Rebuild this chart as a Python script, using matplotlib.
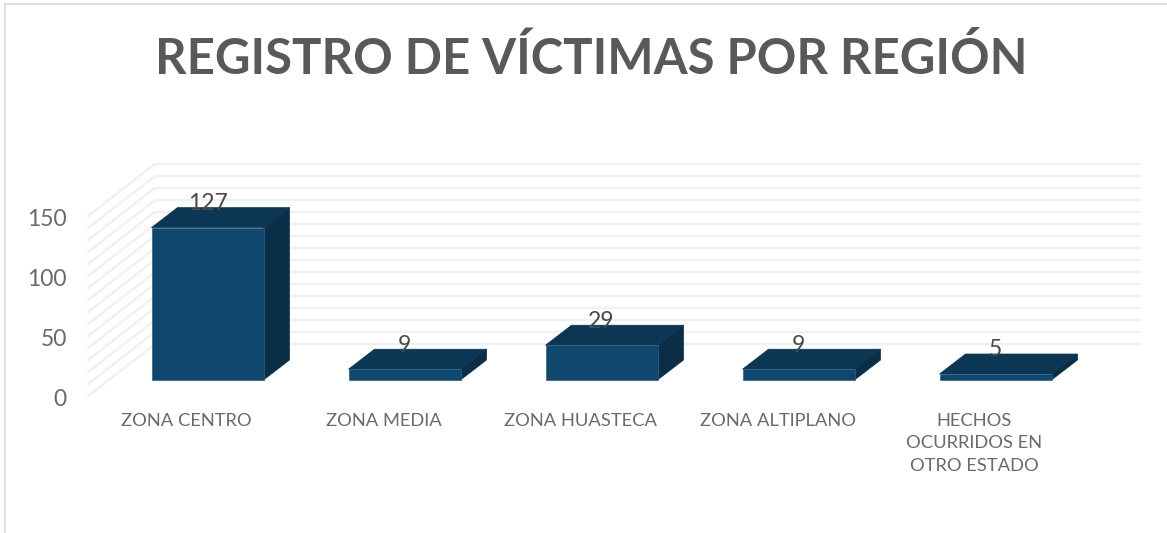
import matplotlib
matplotlib.use('Agg')
import matplotlib.pyplot as plt
from matplotlib.patches import Polygon

plt.rcParams['font.family'] = ['Lato', 'DejaVu Sans']

# data
categorias = ['ZONA CENTRO', 'ZONA MEDIA', 'ZONA HUASTECA', 'ZONA ALTIPLANO',
              'HECHOS\nOCURRIDOS EN\nOTRO ESTADO']
victimas = [127, 9, 29, 9, 5]
ticks_y = [0, 50, 100, 150]
titulo = 'REGISTRO DE VÍCTIMAS POR REGIÓN'

W, H = 1167, 533
PX_Y = 1.2      # pixels per victim
PX_X = 197.0    # pixels per category
ZERO_Y = 396    # pixel row of value 0 on the front of the wall
CERO_X = 207.5  # pixel column of first bar centre

fig = plt.figure(figsize=(W / 100, H / 100), dpi=100, facecolor='white')
ax = fig.add_axes([0, 0, 1, 1])
ax.set_xlim(-CERO_X / PX_X, (W - CERO_X) / PX_X)
ax.set_ylim(-(H - ZERO_Y) / PX_Y, ZERO_Y / PX_Y)
ax.axis('off')

dx = 1 / PX_X       # one pixel in x
dy = 1 / PX_Y       # one pixel in y

# outer frame
ax.plot([5 * dx + ax.get_xlim()[0]] * 2, [ax.get_ylim()[0], ax.get_ylim()[1] - 4 * dy],
        color='#d9d9d9', lw=1.1)
ax.plot([5 * dx + ax.get_xlim()[0], ax.get_xlim()[1]], [ax.get_ylim()[1] - 4 * dy] * 2,
        color='#d9d9d9', lw=1.1)

# gridlines on side wall and back wall
x_front = (88 - CERO_X) * dx
x_back = (155 - CERO_X) * dx
x_end = (1140 - CERO_X) * dx
rise = 52 * dy
for v in range(0, 151, 10):
    ax.plot([x_front, x_back, x_end], [v, v + rise, v + rise],
            color='#f0f0f0', lw=1.6, solid_joinstyle='miter', zorder=1)

# 3D bars
base = 16 * dy
ancho = 112 * dx
prof_x = 26 * dx
prof_y = 20 * dy
for i, val in enumerate(victimas):
    x0 = i - ancho / 2
    x1 = i + ancho / 2
    y0 = base
    y1 = base + val
    ax.add_patch(Polygon([(x1, y0), (x1 + prof_x, y0 + prof_y), (x1 + prof_x, y1 + prof_y), (x1, y1)],
                         facecolor='#0a2e45', edgecolor='#0a2e45', lw=0.5, zorder=3))
    ax.add_patch(Polygon([(x0, y1), (x1, y1), (x1 + prof_x, y1 + prof_y), (x0 + prof_x, y1 + prof_y)],
                         facecolor='#0b3755', edgecolor='#0b3755', lw=0.5, zorder=3))
    ax.add_patch(Polygon([(x0, y0), (x1, y0), (x1, y1), (x0, y1)],
                         facecolor='#10476f', edgecolor='#2f6288', lw=0.5, zorder=4))
    ax.text(i, y1 + 24 * dy, str(val), ha='center', va='center',
            fontsize=16.5, color='#4a4a4a', zorder=5)
    ax.text(i - 21 * dx, -16.5 * dy, categorias[i], ha='center', va='top',
            fontsize=13.2, color='#6a6a6a', linespacing=1.52, zorder=5)

for t in ticks_y:
    ax.text((67 - CERO_X) * dx, t - 3 * dy, str(t), ha='right', va='center',
            fontsize=16.5, color='#6a6a6a')

ax.text((591 - CERO_X) * dx, (ZERO_Y - 58) * dy, titulo, ha='center', va='center',
        fontsize=35.3, fontweight='bold', color='#595959')

fig.savefig('out.png', dpi=100)
